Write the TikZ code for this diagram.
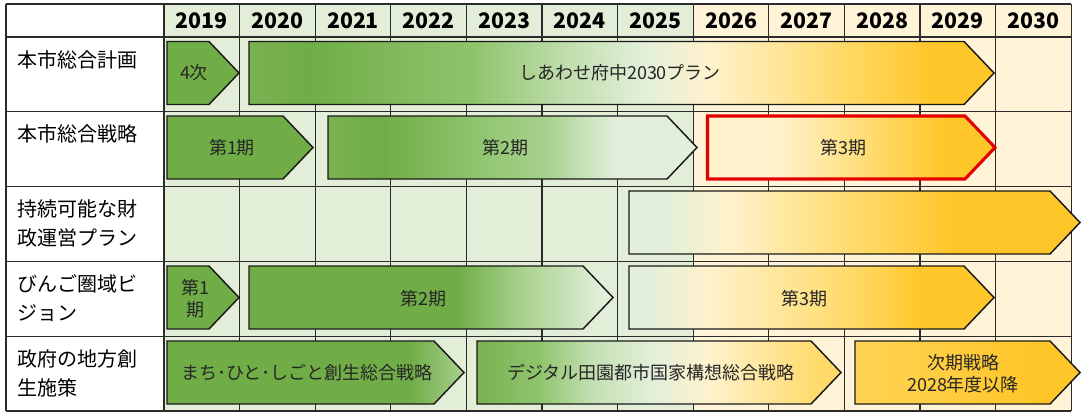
\documentclass[tikz,border=0pt]{standalone}
\usepackage{fontspec}
\setmainfont{Noto Sans CJK JP}
\usetikzlibrary{calc}

\definecolor{grn}{HTML}{70AD47}
\definecolor{gstart}{HTML}{7AB252}
\definecolor{gmid2}{HTML}{8FC46D}
\definecolor{gmid}{HTML}{A9D18E}
\definecolor{glight}{HTML}{C5E0B4}
\definecolor{lgrn}{HTML}{E2EFDA}
\definecolor{cream}{HTML}{FFF2CC}
\definecolor{ylw}{HTML}{FFD966}
\definecolor{gold}{HTML}{FFC629}
\definecolor{bggreen}{HTML}{E3EED9}
\definecolor{bgcream}{HTML}{FFF3D8}
\definecolor{gridcol}{HTML}{2B2B2B}

% visible part of each shading runs from 25bp to 75bp
\pgfdeclarehorizontalshading{flatgreen}{100bp}{color(0bp)=(grn); color(100bp)=(grn)}
\pgfdeclarehorizontalshading{planfade}{100bp}{color(0bp)=(gstart); color(25bp)=(gstart); color(29bp)=(grn); color(40bp)=(gmid2); color(47bp)=(glight); color(51.5bp)=(lgrn); color(56bp)=(cream); color(65bp)=(ylw); color(71bp)=(gold); color(100bp)=(gold)}
\pgfdeclarehorizontalshading{fadeA}{100bp}{color(0bp)=(gstart); color(25bp)=(gstart); color(32bp)=(grn); color(45bp)=(gmid2); color(55bp)=(gmid); color(59bp)=(glight); color(64bp)=(lgrn); color(100bp)=(lgrn)}
\pgfdeclarehorizontalshading{goldA}{100bp}{color(0bp)=(cream); color(37.5bp)=(cream); color(55bp)=(ylw); color(66bp)=(gold); color(100bp)=(gold)}
\pgfdeclarehorizontalshading{finfade}{100bp}{color(0bp)=(lgrn); color(29bp)=(lgrn); color(36bp)=(cream); color(51bp)=(ylw); color(61bp)=(gold); color(100bp)=(gold)}
\pgfdeclarehorizontalshading{fadeB}{100bp}{color(0bp)=(grn); color(53.5bp)=(grn); color(62.5bp)=(gmid); color(68bp)=(glight); color(73.5bp)=(lgrn); color(100bp)=(lgrn)}
\pgfdeclarehorizontalshading{goldB}{100bp}{color(0bp)=(lgrn); color(27.5bp)=(lgrn); color(36bp)=(cream); color(56bp)=(ylw); color(65bp)=(gold); color(100bp)=(gold)}
\pgfdeclarehorizontalshading{fadeC}{100bp}{color(0bp)=(grn); color(66bp)=(grn); color(75bp)=(gmid); color(100bp)=(gmid)}
\pgfdeclarehorizontalshading{digfade}{100bp}{color(0bp)=(gstart); color(25bp)=(gstart); color(33.5bp)=(gmid2); color(41bp)=(glight); color(49bp)=(lgrn); color(57bp)=(cream); color(72.5bp)=(ylw); color(100bp)=(ylw)}
\pgfdeclarehorizontalshading{nextfade}{100bp}{color(0bp)=(ylw!70!gold); color(25bp)=(ylw!70!gold); color(65bp)=(gold); color(100bp)=(gold)}

\begin{document}
\begin{tikzpicture}[x=0.75pt, y=-0.75pt, font=\fontsize{15}{21.75}\selectfont,
    gridline/.style={draw=gridcol, line width=1pt},
    bar/.style={draw=black!90, line width=1.1pt, line join=miter},
    bartext/.style={font=\fontsize{13.5}{16.5}\selectfont, text=black!85, align=center, inner sep=0pt},
    rowlabel/.style={anchor=north west, align=left, inner sep=0pt},
    year/.style={font=\fontsize{16}{18}\selectfont\bfseries}]
    \useasboundingbox (0,0) rectangle (1081,412);
    \fill[white] (0,0) rectangle (1081,412);
    \fill[bggreen] (164,4) rectangle (693.2,411);
    \fill[bgcream] (693.2,4) rectangle (1071,411);
    % grid
    \draw[gridline] (6,4) -- (6,411);
    \foreach \i in {0,...,12} {
        \draw[gridline] (164+75.6*\i,4) -- (164+75.6*\i,411);
    }
    \foreach \y in {4,37,111.8,186.6,261.4,336.2,411} {
        \draw[gridline] (6,\y) -- (1071,\y);
    }
    \foreach \yr [count=\i from 0] in {2019,...,2030} {
        \node[year] (yr\yr) at (201.8+75.6*\i,21) {\yr};
    }
    \foreach \txt [count=\k from 1] in {本市総合計画, 本市総合戦略, {持続可能な財\\政運営プラン}, {びんご圏域ビ\\ジョン}, {政府の地方創\\生施策}} {
        \node[rowlabel] (lab\k) at (17,50+74.8*\k-74.8) {\txt};
    }
    % bars: left, tip, top
    \foreach \xa/\xb/\yt/\sh in {167/239/41.5/flatgreen, 249/994/41.5/planfade,
        167/313/116/flatgreen, 328/697/116/fadeA, 629/1080/191/finfade,
        167/239/266/flatgreen, 249/613/266/fadeB, 629/994/266/goldB,
        167/464/341/fadeC, 477/841/341/digfade, 855/1080/341/nextfade} {
        \draw[bar, shade, shading=\sh] (\xa,\yt) -- (\xb-30,\yt) -- (\xb,\yt+31.5)
            -- (\xb-30,\yt+63) -- (\xa,\yt+63) -- cycle;
    }
    \draw[bar, shade, shading=goldA, draw=red!90!black, line width=2.3pt]
        (707.5,116) -- (965,116) -- (995,147.5) -- (965,179) -- (707.5,179) -- cycle;
    % bar labels
    \node[bartext] (t4ji) at (194,73) {4次};
    \node[bartext] (tplan) at (620,73) {しあわせ府中2030プラン};
    \node[bartext] (tsen1) at (232,148) {第1期};
    \node[bartext] (tsen2) at (505,148) {第2期};
    \node[bartext] (tsen3) at (843,148) {第3期};
    \node[bartext] (tbin1) at (195,299) {第1\\期};
    \node[bartext] (tbin2) at (423,299) {第2期};
    \node[bartext] (tbin3) at (804,299) {第3期};
    \node[bartext] (tmachi) at (307,373) {まち･ひと･しごと創生総合戦略};
    \node[bartext] (tdigi) at (651,373) {デジタル田園都市国家構想総合戦略};
    \node[bartext] (tnext) at (963,374) {次期戦略\\2028年度以降};
\end{tikzpicture}
\end{document}
